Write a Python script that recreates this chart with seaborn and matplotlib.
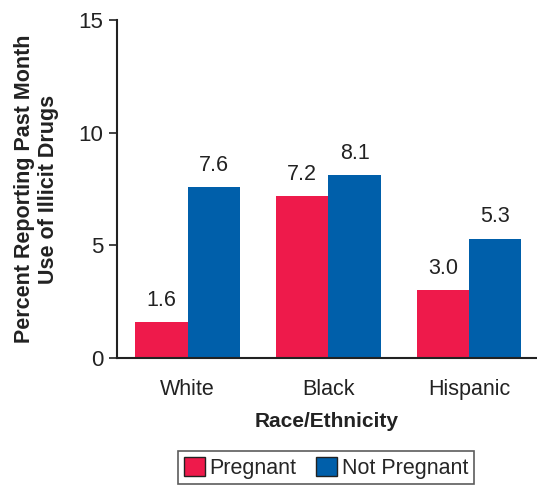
import matplotlib
matplotlib.use('Agg')
import matplotlib.pyplot as plt
import seaborn as sns
import pandas as pd

# data
groups = ['White', 'Black', 'Hispanic']
pregnant = [1.6, 7.2, 3.0]
not_pregnant = [7.6, 8.1, 5.3]
series = ['Pregnant', 'Not Pregnant']
colors = ['#EE1A4B', '#005FAA']

sns.set_style('white')
plt.rcParams['font.family'] = ['Liberation Sans', 'DejaVu Sans']

df = pd.DataFrame({
    'group': groups * 2,
    'status': [series[0]] * 3 + [series[1]] * 3,
    'value': pregnant + not_pregnant,
})

fig = plt.figure(figsize=(5.37, 4.87), dpi=100)
ax = fig.add_axes([0.218, 0.265, 0.782, 0.694])
sns.barplot(data=df, x='group', y='value', hue='status', palette=colors,
            width=0.74, saturation=1, linewidth=0, ax=ax, legend=False)

# value labels
for cont in ax.containers:
    ax.bar_label(cont, fmt='%.1f', padding=8, fontsize=15.5, color='#222222')

ax.set_ylim(0, 15)
ax.set_yticks([0, 5, 10, 15])
ax.set_xlim(-0.5, 2.48)
for s in ['top', 'right']:
    ax.spines[s].set_visible(False)
for s in ['left', 'bottom']:
    ax.spines[s].set_color('#222222')
    ax.spines[s].set_linewidth(1.5)
ax.tick_params(axis='y', left=True, length=6, width=1.2, color='#222222',
               labelsize=16, labelcolor='#222222', pad=4)
ax.tick_params(axis='x', bottom=False, labelsize=15.5, labelcolor='#222222', pad=12)
ax.set_xlabel('Race/Ethnicity', fontsize=15, fontweight='bold', color='#222222', labelpad=8)
ax.set_ylabel('Percent Reporting Past Month\nUse of Illicit Drugs', fontsize=15.5,
              fontweight='bold', color='#222222', labelpad=14)

handles = [plt.Rectangle((0, 0), 1, 1, facecolor=c, edgecolor='#222222', linewidth=1)
           for c in colors]
leg = fig.legend(handles, series, loc='center', bbox_to_anchor=(0.607, 0.04), ncol=2,
                 fontsize=15.5, frameon=True, fancybox=False, handlelength=1.0,
                 handleheight=1.0, handletextpad=0.2, columnspacing=0.9,
                 borderpad=0.25)
leg.get_frame().set_edgecolor('#333333')
leg.get_frame().set_linewidth(1.2)

fig.savefig('out.png', dpi=100)
